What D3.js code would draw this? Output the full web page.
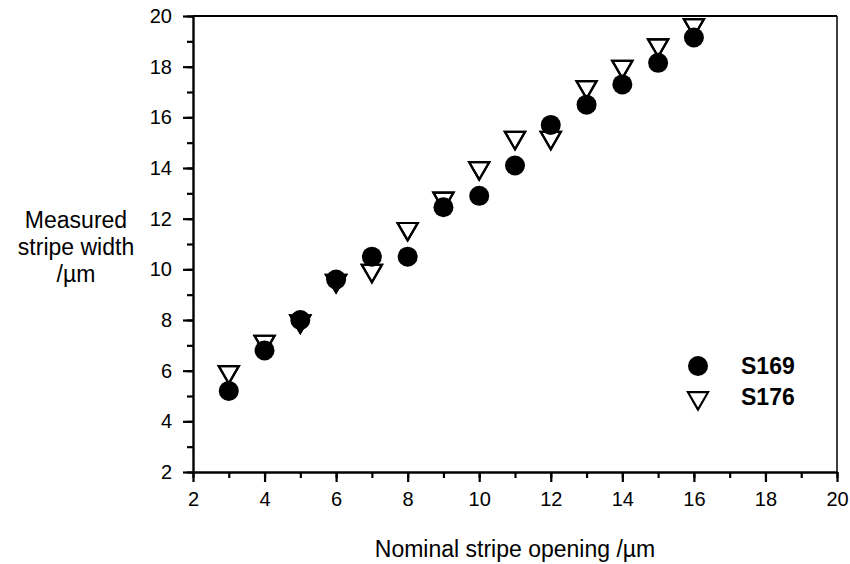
<!DOCTYPE html>
<html>
<head>
<meta charset="utf-8">
<script src="https://cdn.jsdelivr.net/npm/d3@7"></script>
<style>
  body { margin: 0; background: #fff; }
  svg text { font-family: "Liberation Sans", Arial, sans-serif; fill: #000; }
</style>
</head>
<body>
<svg id="chart" width="850" height="564"></svg>
<script>
var nominal = [3, 4, 5, 6, 7, 8, 9, 10, 11, 12, 13, 14, 15, 16];
var s169 = [5.2, 6.8, 8.0, 9.6, 10.5, 10.5, 12.45, 12.9, 14.1, 15.7, 16.5, 17.3, 18.15, 19.15];
var s176 = [5.95, 7.15, 7.95, 9.55, 9.95, 11.6, 12.8, 14.0, 15.2, 15.2, 17.2, 18.0, 18.85, 19.65];
var seriesNames = ["S169", "S176"];
var xTicks = [2, 4, 6, 8, 10, 12, 14, 16, 18, 20];
var yTicks = [2, 4, 6, 8, 10, 12, 14, 16, 18, 20];

var margin = {top: 16, right: 13, bottom: 92, left: 193}
  , width = 850 - margin.left - margin.right
  , height = 564 - margin.top - margin.bottom;

var svg = d3.select("#chart")
    .append("g")
    .attr("transform", "translate(" + margin.left + "," + margin.top + ")");

var xScale = d3.scaleLinear().domain([2, 20]).range([0, width]);
var yScale = d3.scaleLinear().domain([2, 20]).range([height, 0]);

// frame (top and right)
svg.append("line").attr("x1", 0).attr("x2", width).attr("y1", 0).attr("y2", 0)
    .attr("stroke", "#000").attr("stroke-width", 2);
svg.append("line").attr("x1", width).attr("x2", width).attr("y1", 0).attr("y2", height)
    .attr("stroke", "#000").attr("stroke-width", 1.5);

// minor ticks every 1
var minor = d3.range(2, 21, 1);
svg.append("g")
    .attr("transform", "translate(0," + height + ")")
    .call(d3.axisBottom(xScale).tickValues(minor).tickSize(6).tickFormat(""))
    .call(function(g){ g.select(".domain").remove(); });
svg.append("g")
    .call(d3.axisLeft(yScale).tickValues(minor).tickSize(6).tickFormat(""))
    .call(function(g){ g.select(".domain").remove(); });

var xAxis = svg.append("g")
    .attr("class", "x axis")
    .attr("transform", "translate(0," + height + ")")
    .call(d3.axisBottom(xScale).tickValues(xTicks).tickSize(10).tickPadding(10).tickSizeOuter(0));

var yAxis = svg.append("g")
    .attr("class", "y axis")
    .call(d3.axisLeft(yScale).tickValues(yTicks).tickSize(10).tickPadding(11).tickSizeOuter(0));

svg.selectAll(".axis .domain").attr("stroke-width", 2.4);
svg.selectAll(".tick line").attr("stroke-width", 2.2);
svg.selectAll(".axis text").style("font-size", "20px");

var tri = d3.symbol().type(d3.symbolTriangle).size(175);

function drawTriangles(cls){
    svg.selectAll("." + cls)
        .data(nominal.map(function(d, i){ return {x: d, y: s176[i]}; }))
        .enter().append("path")
        .attr("class", cls)
        .attr("d", tri)
        .attr("transform", function(d){ return "translate(" + xScale(d.x) + "," + yScale(d.y) + ") rotate(180)"; })
        .attr("fill", "none")
        .attr("stroke", "#000")
        .attr("stroke-width", 2.2);
}

drawTriangles("s176");

svg.selectAll(".s169")
    .data(nominal.map(function(d, i){ return {x: d, y: s169[i]}; }))
    .enter().append("circle")
    .attr("class", "s169")
    .attr("cx", function(d){ return xScale(d.x); })
    .attr("cy", function(d){ return yScale(d.y); })
    .attr("r", 10)
    .attr("fill", "#000");

// triangle outlines again on top of overlapping circles
drawTriangles("s176top");

// legend
var legend = svg.append("g").attr("transform", "translate(" + (698 - margin.left) + "," + (366 - margin.top) + ")");
legend.append("circle").attr("cx", 0).attr("cy", 0).attr("r", 10).attr("fill", "#000");
legend.append("path").attr("d", tri)
    .attr("transform", "translate(0,32) rotate(180)")
    .attr("fill", "none").attr("stroke", "#000").attr("stroke-width", 2.2);
legend.selectAll(".ltext")
    .data(seriesNames)
    .enter().append("text")
    .attr("x", 43)
    .attr("y", function(d, i){ return i * 31 + 8; })
    .style("font-size", "23px")
    .style("font-weight", "bold")
    .text(function(d){ return d; });

// axis titles
svg.append("text")
    .attr("x", 515 - margin.left)
    .attr("y", 557 - margin.top)
    .attr("text-anchor", "middle")
    .style("font-size", "23px")
    .text("Nominal stripe opening /\u00b5m");

var ylab = svg.append("text")
    .attr("text-anchor", "middle")
    .style("font-size", "23px");
ylab.selectAll("tspan")
    .data(["Measured", "stripe width", "/\u00b5m"])
    .enter().append("tspan")
    .attr("x", 76 - margin.left)
    .attr("y", function(d, i){ return 228 - margin.top + i * 27; })
    .text(function(d){ return d; });
</script>
</body>
</html>
